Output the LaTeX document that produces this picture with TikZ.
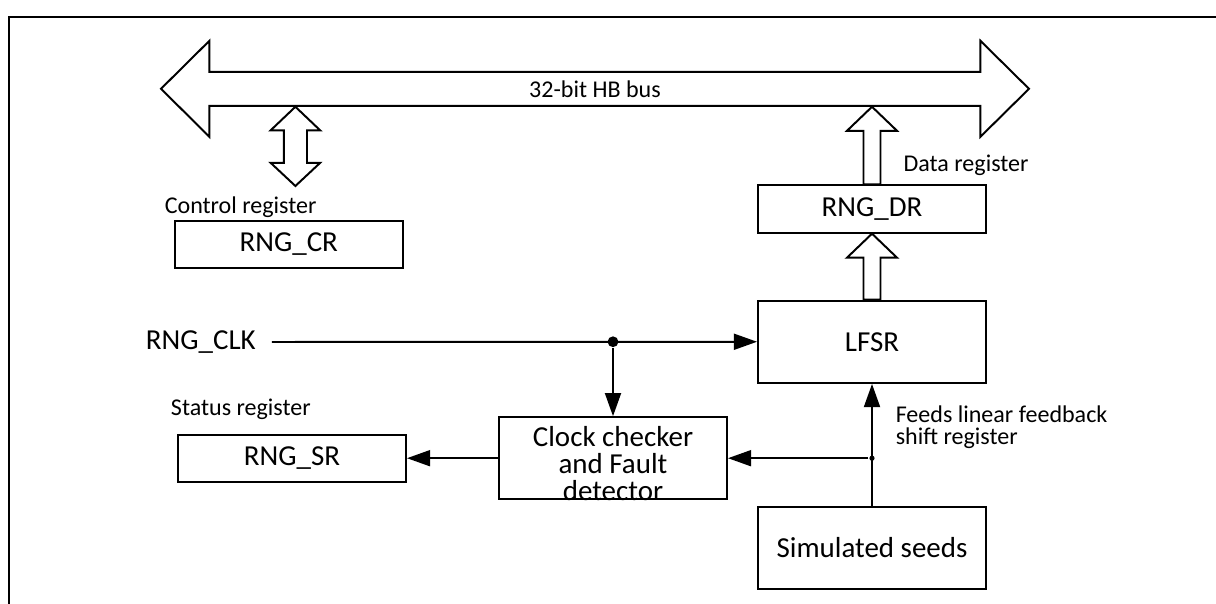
\documentclass[tikz,border=0pt]{standalone}
\usepackage{fontspec}
\setmainfont{Carlito}
\usetikzlibrary{positioning,calc,arrows.meta}

\newcommand{\boxfont}{\fontsize{20.6}{19.4}\selectfont}
\newcommand{\lblfont}{\fontsize{17.1}{15.6}\selectfont}

% hollow bus arrow pointing up: #1 from, #2 to, #3 half shaft, #4 half head
\newcommand{\fatup}[4]{%
  \draw[fat] let \p1=(#1), \p2=(#2) in
    (\x1-#3,\y1) -- (\x1-#3,\y2-0.6cm) -- (\x1-#4,\y2-0.6cm) -- (\x1,\y2)
    -- (\x1+#4,\y2-0.6cm) -- (\x1+#3,\y2-0.6cm) -- (\x1+#3,\y1) -- cycle;}

\begin{document}
\begin{tikzpicture}[
  >={Triangle[length=0.58cm,width=0.4cm]},
  line width=1.4pt,
  box/.style  = {draw, line width=1.4pt, minimum width=5.7cm, inner sep=0pt,
                 font=\boxfont},
  lbl/.style  = {font=\lblfont, inner sep=0pt, anchor=west, align=left},
  flow/.style = {->, line width=1.4pt},
  fat/.style  = {draw, line width=1.4pt, fill=white, line join=miter},
  junc/.style = {circle, fill, inner sep=0pt, minimum size=#1},
]
\useasboundingbox (0,0) rectangle (30.4,15.1);

% outer frame (top and left edge only)
\draw (0.225,0) -- (0.225,14.675) -- (30.4,14.675);

% the bus
\draw[fat] (4.025,12.88) -- (5.235,14.08) -- (5.235,13.305) -- (24.51,13.305)
  -- (24.51,14.08) -- (25.725,12.88) -- (24.51,11.68) -- (24.51,12.455)
  -- (5.235,12.455) -- (5.235,11.68) -- cycle;
\node[font=\lblfont, minimum height=0.85cm, inner sep=0pt] (bus) at (14.875,12.88) {32-bit HB bus};

% registers and blocks
\node[box, minimum height=1.175cm] (cr)    at (7.22,8.99)   {RNG\_CR};
\node[box, minimum height=1.185cm] (dr)    at (21.8,9.875)  {RNG\_DR};
\node[box, minimum height=2.06cm]  (lfsr)  at (21.8,6.556)  {LFSR};
\node[box, minimum height=2.04cm]  (seeds) at (21.8,1.404)  {Simulated seeds};
\node[box, minimum height=1.175cm] (sr)    at (7.3,3.645)   {RNG\_SR};
\node[box, minimum height=2.05cm]  (cc)    at (15.325,3.645) {};
\node[font=\boxfont, align=center, inner sep=0pt] (cctext) at ($(cc)+(0,-0.13)$)
  {Clock checker\\and Fault\\detector};

% labels
\node[lbl] (crlbl)   at (4.095,9.93)  {Control register};
\node[lbl] (drlbl)   at (22.565,10.96) {Data register};
\node[lbl] (srlbl)   at (4.25,4.875)  {Status register};
\node[lbl] (feedlbl) at (22.37,4.43)  {Feeds linear feedback\\shift register};
\node[font=\boxfont, anchor=west, inner sep=0pt] (clk) at (3.625,6.55) {RNG\_CLK};

% control register <-> bus
\coordinate (crtip) at (7.385,10.45);
\draw[fat] let \p1=(crtip), \p2=(crtip |- bus.south) in
  (\x1,\y1) -- (\x1-0.62cm,\y1+0.58cm) -- (\x1-0.29cm,\y1+0.58cm)
  -- (\x1-0.29cm,\y2-0.59cm) -- (\x1-0.62cm,\y2-0.59cm) -- (\x1,\y2)
  -- (\x1+0.62cm,\y2-0.59cm) -- (\x1+0.29cm,\y2-0.59cm)
  -- (\x1+0.29cm,\y1+0.58cm) -- (\x1+0.62cm,\y1+0.58cm) -- cycle;

% data path up to the bus
\fatup{lfsr.north}{dr.south}{0.2125cm}{0.625cm}
\fatup{dr.north}{dr.north |- bus.south}{0.2125cm}{0.625cm}

% clock
\draw[flow] ([xshift=0.38cm]clk.east) -- (lfsr.west);
\node[junc=0.27cm] (j1) at (cc.north |- lfsr.west) {};
\draw[flow] (j1) -- (cc.north);
\draw[flow] (cc.west) -- (sr.east);

% seeds
\draw[flow] (seeds.north) -- (lfsr.south);
\node[junc=0.13cm] (j2) at (seeds.north |- cc.east) {};
\draw[flow] (j2) -- (cc.east);
\end{tikzpicture}
\end{document}
